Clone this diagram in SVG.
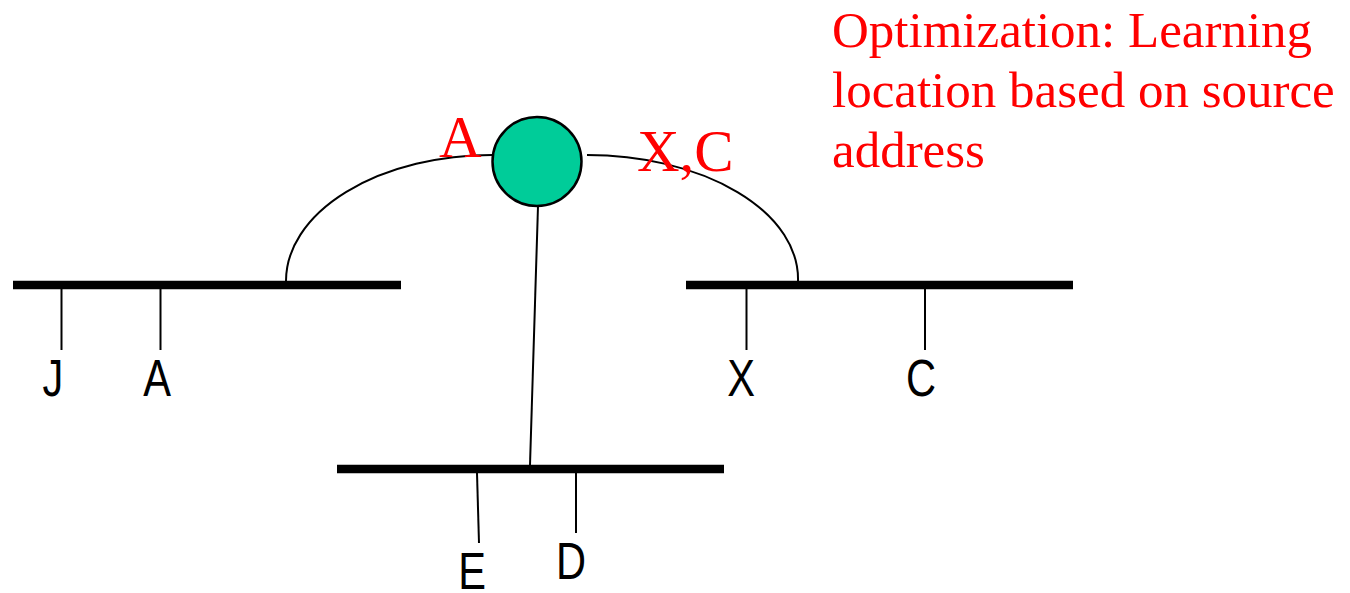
<svg xmlns="http://www.w3.org/2000/svg" width="1350" height="593" viewBox="0 0 1350 593">
<style>
.bus{stroke:#000;stroke-width:8.5;fill:none}
.wire{stroke:#000;stroke-width:2;fill:none}
.lbl{font-family:"Liberation Sans",Arial,sans-serif;font-size:52px;fill:#000;text-anchor:middle}
.red{font-family:"Liberation Serif","Times New Roman",serif;fill:#ff0000}
</style>
<rect width="1350" height="593" fill="#fff"/>
<g id="connectors">
<path class="wire" d="M286,281 A206,126 0 0 1 492,155"/>
<path class="wire" d="M587,155 A211,124 0 0 1 798,281"/>
<line class="wire" x1="538" y1="206" x2="530" y2="465"/>
<line class="wire" x1="61.5" y1="289" x2="61.5" y2="350"/>
<line class="wire" x1="160.5" y1="289" x2="160.5" y2="350"/>
<line class="wire" x1="746.5" y1="289" x2="746.5" y2="350"/>
<line class="wire" x1="925" y1="289" x2="925" y2="350"/>
<line class="wire" x1="477" y1="473" x2="479" y2="543"/>
<line class="wire" x1="576" y1="473" x2="576" y2="533"/>
</g>
<g id="bus-left"><line class="bus" x1="13" y1="285" x2="401" y2="285"/></g>
<g id="bus-right"><line class="bus" x1="686" y1="285" x2="1073" y2="285"/></g>
<g id="bus-bottom"><line class="bus" x1="337" y1="469" x2="724" y2="469"/></g>
<g id="bridge"><circle cx="537" cy="161.5" r="44.5" fill="#00cc99" stroke="#000" stroke-width="2.5"/></g>
<g id="host-J"><text class="lbl" transform="translate(53,396) scale(0.8,1)">J</text></g>
<g id="host-A"><text class="lbl" transform="translate(157,396) scale(0.8,1)">A</text></g>
<g id="host-X"><text class="lbl" transform="translate(741,396) scale(0.8,1)">X</text></g>
<g id="host-C"><text class="lbl" transform="translate(921,396) scale(0.8,1)">C</text></g>
<g id="host-E"><text class="lbl" transform="translate(472,589) scale(0.8,1)">E</text></g>
<g id="host-D"><text class="lbl" transform="translate(571,579) scale(0.8,1)">D</text></g>
<g id="port-labels">
<text class="red" x="439" y="157" font-size="59">A</text>
<text class="red" x="637" y="171" font-size="59">X,C</text>
</g>
<g id="note">
<text class="red" font-size="51" x="832" y="47">Optimization: Learning</text>
<text class="red" font-size="51" x="832" y="107">location based on source</text>
<text class="red" font-size="51" x="832" y="167">address</text>
</g>
</svg>
